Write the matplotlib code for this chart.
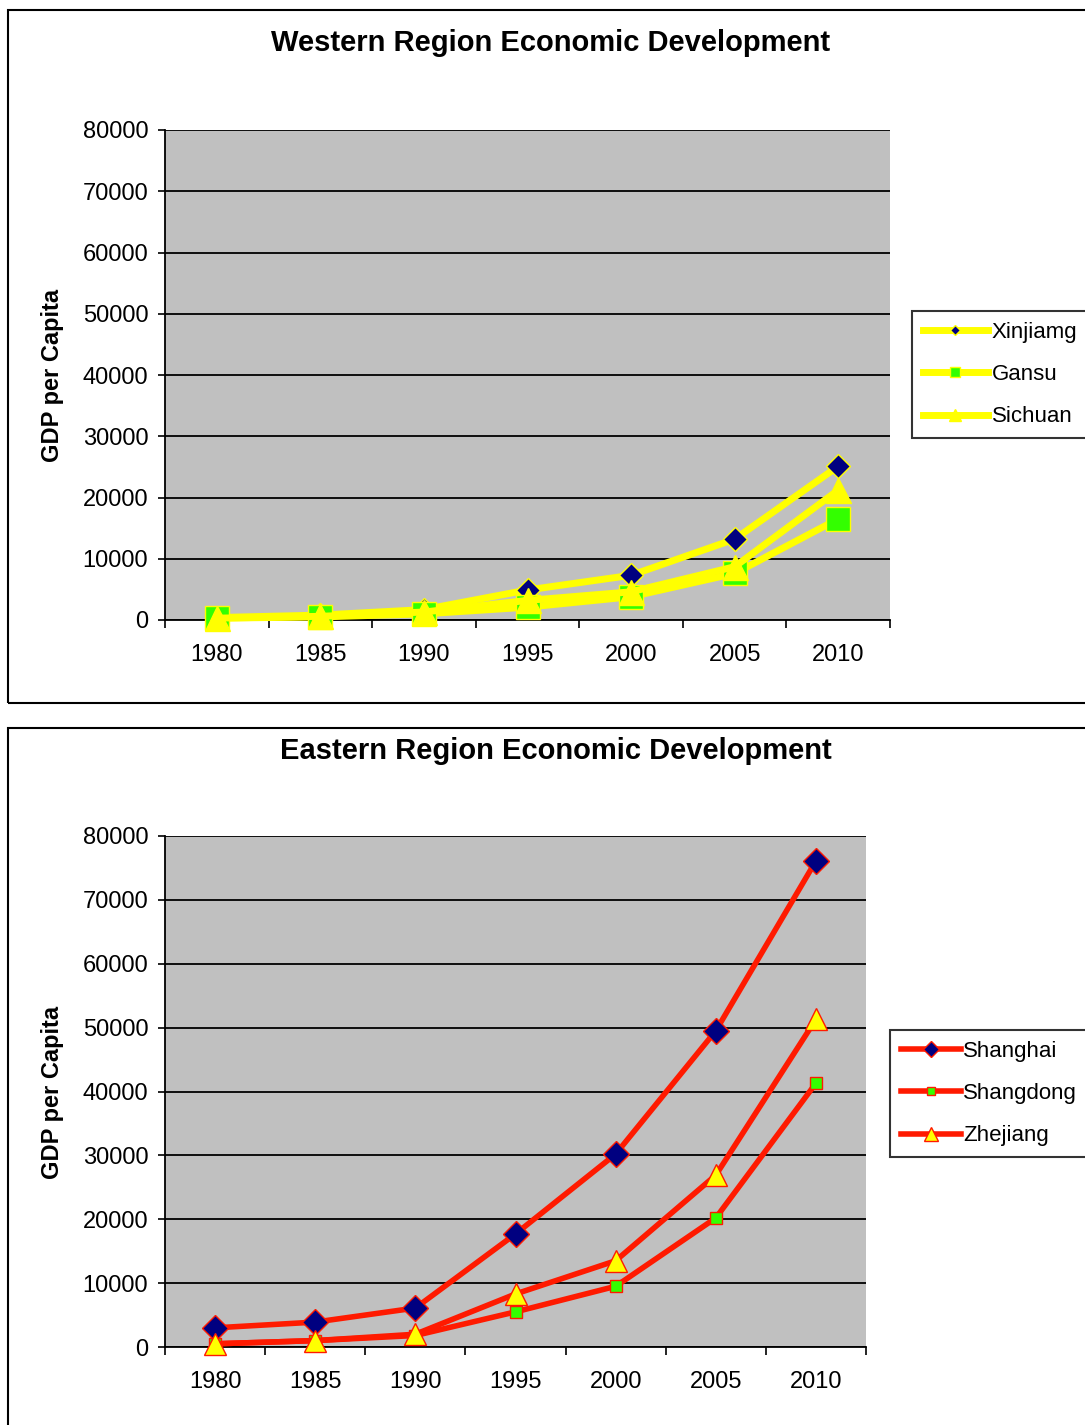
import matplotlib.pyplot as plt
from matplotlib.patches import Rectangle

years = ['1980', '1985', '1990', '1995', '2000', '2005', '2010']

xinjiang = [400, 800, 1700, 4900, 7300, 13200, 25100]
gansu = [300, 500, 1000, 2100, 3800, 7600, 16500]
sichuan = [300, 600, 1300, 3200, 4600, 8700, 21200]

shanghai = [3000, 3900, 6100, 17700, 30200, 49500, 76100]
shangdong = [500, 1000, 1800, 5500, 9500, 20200, 41300]
zhejiang = [500, 1000, 2000, 8300, 13500, 26900, 51300]

plt.rcParams['font.family'] = ['Liberation Sans', 'DejaVu Sans']

W, H = 1085, 1425
fig = plt.figure(figsize=(W / 100, H / 100), dpi=100)
fig.set_facecolor('white')


def fx(px):
    return px / W


def fy(py):
    return 1 - py / H


# chart frames
for (x0, y0, y1) in [(8, 10, 703), (8, 728, 1440)]:
    fig.add_artist(Rectangle((fx(x0), fy(y1)), fx(W + 20 - x0), fy(y0) - fy(y1),
                             transform=fig.transFigure, fill=False,
                             edgecolor='black', lw=1.5, clip_on=False))


def style_axes(ax):
    x = list(range(len(years)))
    ax.set_facecolor('#c0c0c0')
    ax.set_xlim(-0.5, len(years) - 0.5)
    ax.set_ylim(0, 80000)
    ax.set_yticks(range(0, 80001, 10000))
    ax.set_yticklabels([str(v) for v in range(0, 80001, 10000)], fontsize=17)
    ax.set_xticks(x)
    ax.set_xticklabels(years, fontsize=17)
    ax.set_xticks([i - 0.5 for i in range(len(years) + 1)], minor=True)
    ax.tick_params(axis='x', which='major', length=0, pad=17)
    ax.tick_params(axis='x', which='minor', length=6, width=1.2, direction='out')
    ax.tick_params(axis='y', length=5, width=1.2, pad=7)
    ax.grid(axis='y', color='black', lw=1.3)
    ax.set_axisbelow(True)
    for s in ['top', 'right']:
        ax.spines[s].set_visible(False)
    ax.spines['left'].set_linewidth(1.3)
    ax.spines['bottom'].set_linewidth(1.3)
    return x


# ---- Western region ----
ax1 = fig.add_axes([fx(165), fy(620), fx(725), fy(130) - fy(620)])
x = style_axes(ax1)
ax1.plot(x, xinjiang, color='yellow', lw=5, marker='D', ms=12,
         mfc='#000080', mec='yellow', label='Xinjiamg', clip_on=False, zorder=3)
ax1.plot(x, gansu, color='yellow', lw=5, marker='s', ms=17,
         mfc='#33ff00', mec='yellow', label='Gansu', clip_on=False, zorder=3)
ax1.plot(x, sichuan, color='yellow', lw=5, marker='^', ms=18,
         mfc='yellow', mec='yellow', label='Sichuan', clip_on=False, zorder=3)
fig.text(fx(551), fy(43), 'Western Region Economic Development', ha='center',
         va='center', fontsize=21, fontweight='bold')
fig.text(fx(52), fy(375), 'GDP per Capita', ha='center', va='center',
         rotation=90, fontsize=17, fontweight='bold')
leg1 = ax1.legend(loc='upper left', bbox_to_anchor=(fx(912), fy(311)),
                  bbox_transform=fig.transFigure, fontsize=16, frameon=True,
                  fancybox=False, edgecolor='black', markerscale=0.45,
                  handlelength=2.9, handletextpad=0.2, borderaxespad=0,
                  labelspacing=0.95, borderpad=0.5)
leg1.get_frame().set_linewidth(1.5)

# ---- Eastern region ----
ax2 = fig.add_axes([fx(165), fy(1347), fx(701), fy(836) - fy(1347)])
x = style_axes(ax2)
ax2.plot(x, shanghai, color='#ff1a00', lw=4, marker='D', ms=13,
         mfc='#000080', mec='#ff1a00', label='Shanghai', clip_on=False, zorder=3)
ax2.plot(x, shangdong, color='#ff1a00', lw=4, marker='s', ms=9,
         mfc='#33ff00', mec='#ff1a00', label='Shangdong', clip_on=False, zorder=3)
ax2.plot(x, zhejiang, color='#ff1a00', lw=4, marker='^', ms=16,
         mfc='yellow', mec='#ff1a00', label='Zhejiang', clip_on=False, zorder=3)
fig.text(fx(556), fy(751), 'Eastern Region Economic Development', ha='center',
         va='center', fontsize=21, fontweight='bold')
fig.text(fx(52), fy(1092), 'GDP per Capita', ha='center', va='center',
         rotation=90, fontsize=17, fontweight='bold')
leg2 = ax2.legend(loc='upper left', bbox_to_anchor=(fx(890), fy(1030)),
                  bbox_transform=fig.transFigure, fontsize=16, frameon=True,
                  fancybox=False, edgecolor='black', markerscale=0.6,
                  handlelength=2.7, handletextpad=0.1, borderaxespad=0,
                  labelspacing=0.95, borderpad=0.5)
leg2.get_frame().set_linewidth(1.5)

fig.savefig('out.png', dpi=100)
